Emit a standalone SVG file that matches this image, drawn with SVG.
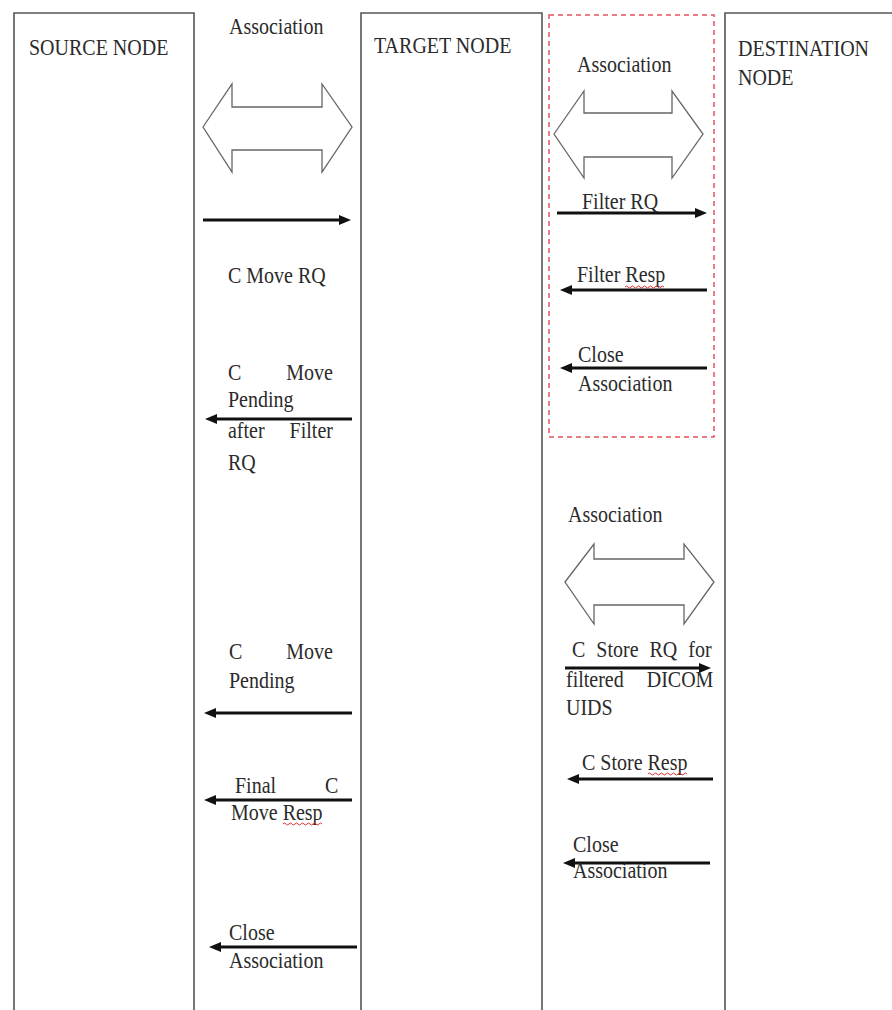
<svg xmlns="http://www.w3.org/2000/svg" width="892" height="1010" viewBox="0 0 892 1010">
<style>
.lane{fill:none;stroke:#555;stroke-width:1.6}
.frame{fill:none;stroke:#e8505b;stroke-width:1.5;stroke-dasharray:5 4}
.t{font-family:"Liberation Serif","Times New Roman",serif;font-size:20px;fill:#2b2b2b}
.msg{fill:none;stroke:#111;stroke-width:3;marker-end:url(#ah)}
.dbl{fill:#fff;stroke:#666;stroke-width:1.3;stroke-linejoin:miter}
.sq{fill:none;stroke:#e03030;stroke-width:1}
</style>
<defs>
<marker id="ah" markerUnits="userSpaceOnUse" markerWidth="12" markerHeight="10" refX="4" refY="5" orient="auto"><path d="M0,0 L12,5 L0,10 z" fill="#111"/></marker>
</defs>
<rect width="892" height="1010" fill="#fff"/>
<g id="source-node">
<path class="lane" d="M14,1010 V13 H194 V1010"/>
<text class="t" transform="matrix(1 0 0 1.2 29 55)">SOURCE NODE</text>
</g>
<g id="target-node">
<path class="lane" d="M361,1010 V13 H542 V1010"/>
<text class="t" transform="matrix(1 0 0 1.2 374 53)">TARGET NODE</text>
</g>
<g id="destination-node">
<path class="lane" d="M725,1010 V13 H892"/>
<text class="t" transform="matrix(1 0 0 1.2 738 56)">DESTINATION</text>
<text class="t" transform="matrix(1 0 0 1.2 738 85)">NODE</text>
</g>
<g id="filter-frame">
<rect class="frame" x="549" y="15" width="165" height="422"/>
</g>
<g id="connectors">
<path class="dbl" d="M203,127 L232,84 L232,107 L322,107 L322,84 L352,127 L322,172 L322,150 L232,150 L232,172 Z"/>
<path class="dbl" d="M554,134 L584,91 L584,113 L672,113 L672,91 L703,134 L672,178 L672,157 L584,157 L584,178 Z"/>
<path class="dbl" d="M565,582 L594,544 L594,559 L684,559 L684,544 L714,582 L684,624 L684,605 L594,605 L594,624 Z"/>
<path class="msg" d="M203,220 H343"/>
<path class="msg" d="M557,213 H699"/>
<path class="msg" d="M707,290 H568"/>
<path class="msg" d="M707,368 H568"/>
<path class="msg" d="M352,419 H213"/>
<path class="msg" d="M565,668 H703"/>
<path class="msg" d="M713,779 H575"/>
<path class="msg" d="M710,863 H571"/>
<path class="msg" d="M352,713 H212"/>
<path class="msg" d="M352,800 H212"/>
<path class="msg" d="M357,947 H217"/>
</g>
<g id="labels">
<text class="t" transform="matrix(1 0 0 1.2 229 34)">Association</text>
<text class="t" transform="matrix(1 0 0 1.2 577 72)">Association</text>
<text class="t" transform="matrix(1 0 0 1.2 582 209)">Filter RQ</text>
<text class="t" transform="matrix(1 0 0 1.2 577 282)">Filter Resp</text>
<text class="t" transform="matrix(1 0 0 1.2 578 362)">Close</text>
<text class="t" transform="matrix(1 0 0 1.2 578 391)">Association</text>
<text class="t" transform="matrix(1 0 0 1.2 228 283)">C Move RQ</text>
<text class="t" transform="matrix(1 0 0 1.2 228 380)" style="word-spacing:40px">C Move</text>
<text class="t" transform="matrix(1 0 0 1.2 228 407)">Pending</text>
<text class="t" transform="matrix(1 0 0 1.2 228 438)" style="word-spacing:20px">after Filter</text>
<text class="t" transform="matrix(1 0 0 1.2 228 470)">RQ</text>
<text class="t" transform="matrix(1 0 0 1.2 568 522)">Association</text>
<text class="t" transform="matrix(1 0 0 1.2 572 657)" style="word-spacing:6px">C Store RQ for</text>
<text class="t" transform="matrix(1 0 0 1.2 566 687)" style="word-spacing:18px">filtered DICOM</text>
<text class="t" transform="matrix(1 0 0 1.2 566 715)">UIDS</text>
<text class="t" transform="matrix(1 0 0 1.2 582 770)">C Store Resp</text>
<text class="t" transform="matrix(1 0 0 1.2 573 852)">Close</text>
<text class="t" transform="matrix(1 0 0 1.2 573 878)">Association</text>
<text class="t" transform="matrix(1 0 0 1.2 229 659)" style="word-spacing:39px">C Move</text>
<text class="t" transform="matrix(1 0 0 1.2 229 688)">Pending</text>
<text class="t" transform="matrix(1 0 0 1.2 235 793)" style="word-spacing:44px">Final C</text>
<text class="t" transform="matrix(1 0 0 1.2 231 820)">Move Resp</text>
<text class="t" transform="matrix(1 0 0 1.2 229 940)">Close</text>
<text class="t" transform="matrix(1 0 0 1.2 229 968)">Association</text>
<path class="sq" d="M625,287 q1.5,-2 3,0 t3,0 t3,0 t3,0 t3,0 t3,0 t3,0 t3,0 t3,0 t3,0 t3,0 t3,0 t3,0"/>
<path class="sq" d="M648,774 q1.5,-2 3,0 t3,0 t3,0 t3,0 t3,0 t3,0 t3,0 t3,0 t3,0 t3,0 t3,0 t3,0 t3,0"/>
<path class="sq" d="M283,824 q1.5,-2 3,0 t3,0 t3,0 t3,0 t3,0 t3,0 t3,0 t3,0 t3,0 t3,0 t3,0 t3,0 t3,0"/>
</g>
</svg>
